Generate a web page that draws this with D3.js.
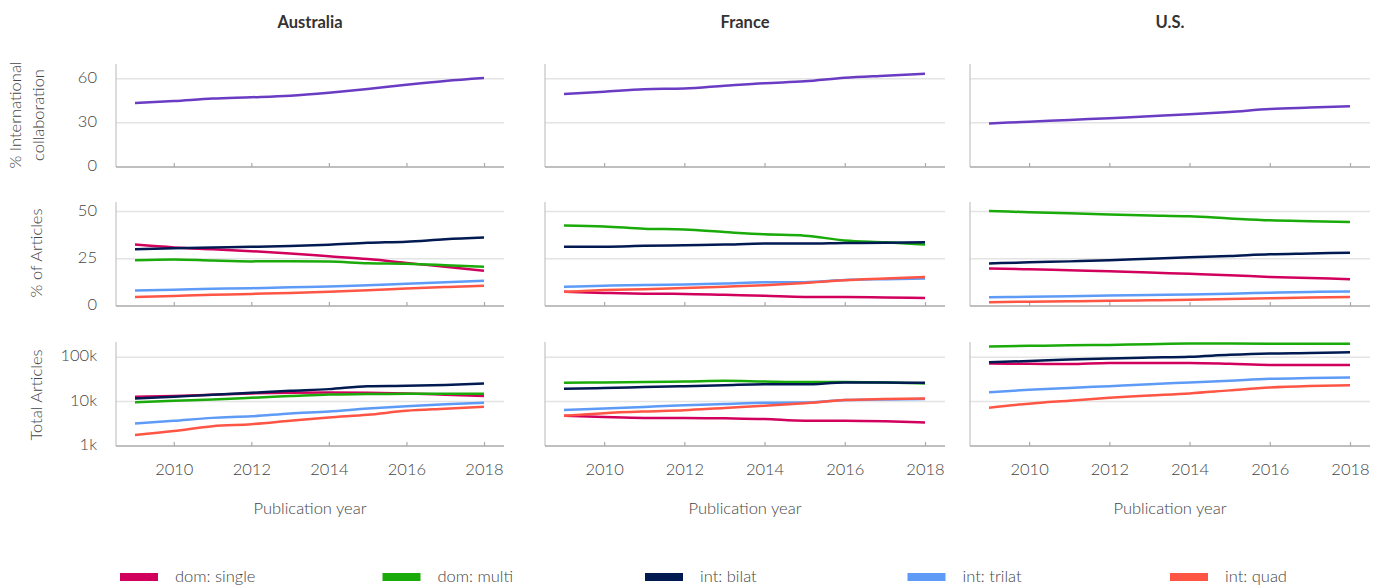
<!DOCTYPE html>
<html>
<head>
<meta charset="utf-8">
<script src="https://cdn.jsdelivr.net/npm/d3@7"></script>
<style>
  html, body { margin: 0; padding: 0; background: #fff; }
  svg { display: block; font-family: Lato, "Open Sans", sans-serif; font-weight: 300; }
</style>
</head>
<body>
<svg id="chart" width="1373" height="587"></svg>
<script>
// ---- data ----
const years = [2009, 2010, 2011, 2012, 2013, 2014, 2015, 2016, 2017, 2018];
const yearTicks = [2010, 2012, 2014, 2016, 2018];
const countries = ["Australia", "France", "U.S."];
const seriesNames = ["dom: single", "dom: multi", "int: bilat", "int: trilat", "int: quad"];
const seriesColors = ["#d1005d", "#1aaa0a", "#021a52", "#5e9bf7", "#ff5545"];
const intlColor = "#6a3cc4";

// % international collaboration
const intlAustralia = [43.5, 44.8, 46.5, 47.4, 48.5, 50.5, 53.0, 55.9, 58.5, 60.5];
const intlFrance    = [49.6, 51.2, 52.9, 53.3, 55.2, 57.0, 58.2, 60.6, 62.0, 63.3];
const intlUS        = [29.6, 30.8, 32.0, 33.2, 34.5, 35.8, 37.4, 39.4, 40.4, 41.3];

// % of articles by collaboration type
const pctAusSingle = [32.5, 31.0, 30.0, 29.0, 27.8, 26.3, 24.8, 22.8, 20.7, 18.7];
const pctAusMulti  = [24.2, 24.6, 24.0, 23.6, 23.7, 23.5, 22.6, 22.3, 21.6, 20.8];
const pctAusBilat  = [30.0, 30.5, 31.0, 31.3, 31.7, 32.4, 33.4, 34.0, 35.3, 36.2];
const pctAusTrilat = [8.2, 8.6, 9.1, 9.4, 9.9, 10.3, 11.0, 11.8, 12.6, 13.3];
const pctAusQuad   = [4.7, 5.3, 5.9, 6.4, 6.9, 7.5, 8.3, 9.3, 10.0, 10.7];

const pctFraSingle = [7.5, 6.9, 6.5, 6.4, 5.9, 5.4, 4.8, 4.7, 4.5, 4.2];
const pctFraMulti  = [42.6, 42.1, 40.9, 40.4, 39.1, 37.9, 37.2, 34.7, 33.7, 32.5];
const pctFraBilat  = [31.4, 31.4, 31.8, 32.1, 32.5, 33.0, 33.0, 33.3, 33.5, 33.7];
const pctFraTrilat = [10.2, 10.7, 11.1, 11.4, 11.9, 12.5, 12.6, 13.7, 14.2, 14.6];
const pctFraQuad   = [7.5, 8.4, 8.9, 9.5, 10.2, 11.0, 12.2, 13.6, 14.5, 15.4];

const pctUSSingle = [19.8, 19.4, 18.9, 18.4, 17.7, 17.0, 16.3, 15.4, 14.8, 14.2];
const pctUSMulti  = [50.2, 49.6, 49.0, 48.4, 47.9, 47.4, 46.3, 45.3, 44.8, 44.4];
const pctUSBilat  = [22.5, 23.1, 23.6, 24.2, 25.0, 25.8, 26.5, 27.4, 27.8, 28.2];
const pctUSTrilat = [4.6, 4.9, 5.2, 5.5, 5.8, 6.1, 6.5, 7.0, 7.4, 7.7];
const pctUSQuad   = [2.0, 2.3, 2.5, 2.8, 3.0, 3.3, 3.7, 4.1, 4.5, 4.7];

// total articles by collaboration type
const totAusSingle = [12800, 13300, 14300, 15300, 15800, 16000, 15800, 15300, 14300, 13300];
const totAusMulti  = [9600, 10400, 11200, 12200, 13300, 14500, 14800, 15100, 15100, 15100];
const totAusBilat  = [11800, 12800, 14300, 15800, 17500, 19100, 22300, 22800, 23800, 25600];
const totAusTrilat = [3200, 3700, 4300, 4650, 5400, 6000, 7000, 7900, 8700, 9400];
const totAusQuad   = [1770, 2170, 2800, 3100, 3700, 4400, 5060, 6200, 6900, 7650];

const totFraSingle = [4800, 4500, 4300, 4300, 4200, 4050, 3700, 3700, 3600, 3400];
const totFraMulti  = [26500, 27000, 27800, 28300, 29300, 28300, 27500, 27500, 27000, 25600];
const totFraBilat  = [19400, 20200, 21200, 22300, 23500, 24700, 24500, 27000, 26800, 26500];
const totFraTrilat = [6500, 7000, 7600, 8300, 8800, 9400, 9500, 10800, 11200, 11400];
const totFraQuad   = [4800, 5500, 6000, 6400, 7200, 8050, 9200, 10800, 11400, 11800];

const totUSSingle = [72000, 71000, 70000, 74000, 74000, 74000, 71000, 67000, 67000, 67000];
const totUSMulti  = [174000, 180000, 185000, 189000, 197000, 203000, 203000, 202000, 201000, 200000];
const totUSBilat  = [77000, 82000, 89000, 94000, 98000, 102000, 113000, 121000, 124000, 129000];
const totUSTrilat = [16300, 18400, 20300, 22300, 24600, 27000, 29600, 32600, 34000, 35000];
const totUSQuad   = [7300, 9000, 10500, 12200, 13700, 15300, 17900, 20800, 22500, 23500];

const pctTicks = [0, 25, 50];
const intlTicks = [0, 30, 60];
const totTicks = [1000, 10000, 100000];
const totTickLabels = ["1k", "10k", "100k"];

// ---- assemble per-panel tables ----
const intlByCountry = [intlAustralia, intlFrance, intlUS];
const pctByCountry = [
  [pctAusSingle, pctAusMulti, pctAusBilat, pctAusTrilat, pctAusQuad],
  [pctFraSingle, pctFraMulti, pctFraBilat, pctFraTrilat, pctFraQuad],
  [pctUSSingle, pctUSMulti, pctUSBilat, pctUSTrilat, pctUSQuad]
];
const totByCountry = [
  [totAusSingle, totAusMulti, totAusBilat, totAusTrilat, totAusQuad],
  [totFraSingle, totFraMulti, totFraBilat, totFraTrilat, totFraQuad],
  [totUSSingle, totUSMulti, totUSBilat, totUSTrilat, totUSQuad]
];

// ---- layout ----
const svg = d3.select("#chart");
const colLeft = [116, 545, 970];
const colRight = [504, 945, 1370];
const rows = [
  { top: 64, bottom: 167 },
  { top: 202, bottom: 306 },
  { top: 342, bottom: 446 }
];
const gridColor = "#e4e4e4";
const axisColor = "#aaaaaa";
const textColor = "#444";

const yIntl = d3.scaleLinear().domain([0, 70]).range([rows[0].bottom, rows[0].top]);
const yPct = d3.scaleLinear().domain([0, 55]).range([rows[1].bottom, rows[1].top]);
const yTot = d3.scaleLog().domain([1000, 220000]).range([rows[2].bottom, rows[2].top]);

const rowScales = [yIntl, yPct, yTot];
const rowTicks = [intlTicks, pctTicks, totTicks];
const rowTickFmt = [d => d, d => d, d => totTickLabels[totTicks.indexOf(d)]];

countries.forEach((country, ci) => {
  const x = d3.scaleLinear().domain([2009, 2018])
    .range([colLeft[ci] + 19, colRight[ci] - 20]);

  // column title
  svg.append("text")
    .attr("x", (colLeft[ci] + colRight[ci]) / 2)
    .attr("y", 24)
    .attr("text-anchor", "middle")
    .attr("dominant-baseline", "middle")
    .attr("font-size", 16.5)
    .attr("font-weight", 700)
    .attr("fill", "#333")
    .text(country);

  rows.forEach((row, ri) => {
    const y = rowScales[ri];
    const g = svg.append("g");

    // horizontal gridlines (skip the baseline tick)
    g.selectAll("line.grid")
      .data(rowTicks[ri].slice(1))
      .join("line")
      .attr("x1", colLeft[ci]).attr("x2", colRight[ci])
      .attr("y1", d => y(d)).attr("y2", d => y(d))
      .attr("stroke", gridColor).attr("stroke-width", 1.5);

    // y axis line
    g.append("line")
      .attr("x1", colLeft[ci]).attr("x2", colLeft[ci])
      .attr("y1", row.top).attr("y2", row.bottom)
      .attr("stroke", "#c4c4c4").attr("stroke-width", 1.2);

    // x axis with inward ticks
    const xAxis = d3.axisBottom(x).tickValues(yearTicks).tickSizeInner(-4).tickSizeOuter(0)
      .tickFormat(ri === 2 ? d3.format("d") : () => "");
    const ax = g.append("g")
      .attr("transform", `translate(0,${row.bottom})`)
      .call(xAxis);
    ax.select(".domain").remove();
    ax.selectAll(".tick line").attr("stroke", axisColor).attr("stroke-width", 1.2);
    ax.selectAll(".tick text")
      .attr("y", 17).attr("dy", "0.71em")
      .attr("font-size", 16.5).attr("font-family", "Lato, sans-serif")
      .attr("font-weight", 300)
      .attr("fill", textColor);
    g.append("line")
      .attr("x1", colLeft[ci]).attr("x2", colRight[ci])
      .attr("y1", row.bottom).attr("y2", row.bottom)
      .attr("stroke", axisColor).attr("stroke-width", 1.5);

    // y tick labels on the first column only
    if (ci === 0) {
      g.selectAll("text.ytick")
        .data(rowTicks[ri])
        .join("text")
        .attr("x", colLeft[ci] - 19)
        .attr("y", d => y(d))
        .attr("text-anchor", "end")
        .attr("dominant-baseline", "middle")
        .attr("font-size", 16.5)
        .attr("fill", textColor)
        .text(rowTickFmt[ri]);
    }

    const line = d3.line()
      .x((d, i) => x(years[i]))
      .y(d => y(d))
      .curve(d3.curveMonotoneX);

    if (ri === 0) {
      g.append("path")
        .datum(intlByCountry[ci])
        .attr("d", line)
        .attr("fill", "none")
        .attr("stroke", intlColor)
        .attr("stroke-width", 2.5);
    } else {
      const sets = ri === 1 ? pctByCountry[ci] : totByCountry[ci];
      g.selectAll("path.series")
        .data(sets)
        .join("path")
        .attr("d", line)
        .attr("fill", "none")
        .attr("stroke", (d, i) => seriesColors[i])
        .attr("stroke-width", 2.5);
    }
  });

  // x axis title
  svg.append("text")
    .attr("x", (colLeft[ci] + colRight[ci]) / 2)
    .attr("y", 510)
    .attr("text-anchor", "middle")
    .attr("dominant-baseline", "middle")
    .attr("font-size", 16.5)
    .attr("fill", textColor)
    .text("Publication year");
});

// y axis titles
function yTitle(lines, cx, cy) {
  const t = svg.append("text")
    .attr("transform", `translate(${cx},${cy}) rotate(-90)`)
    .attr("text-anchor", "middle")
    .attr("font-size", 16.5)
    .attr("fill", textColor);
  lines.forEach((s, i) => {
    t.append("tspan")
      .attr("x", 0)
      .attr("y", (i - (lines.length - 1) / 2) * 23)
      .attr("dominant-baseline", "middle")
      .text(s);
  });
}
yTitle(["% International", "collaboration"], 28, 115);
yTitle(["% of Articles"], 38, 253);
yTitle(["Total Articles"], 38, 395);

// legend
const legend = svg.append("g");
seriesNames.forEach((name, i) => {
  const lx = 120 + i * 262.5;
  legend.append("rect")
    .attr("x", lx).attr("y", 573)
    .attr("width", 38).attr("height", 8)
    .attr("fill", seriesColors[i]);
  legend.append("text")
    .attr("x", lx + 55).attr("y", 578)
    .attr("dominant-baseline", "middle")
    .attr("font-size", 16.5)
    .attr("fill", textColor)
    .text(name);
});
</script>
</body>
</html>
